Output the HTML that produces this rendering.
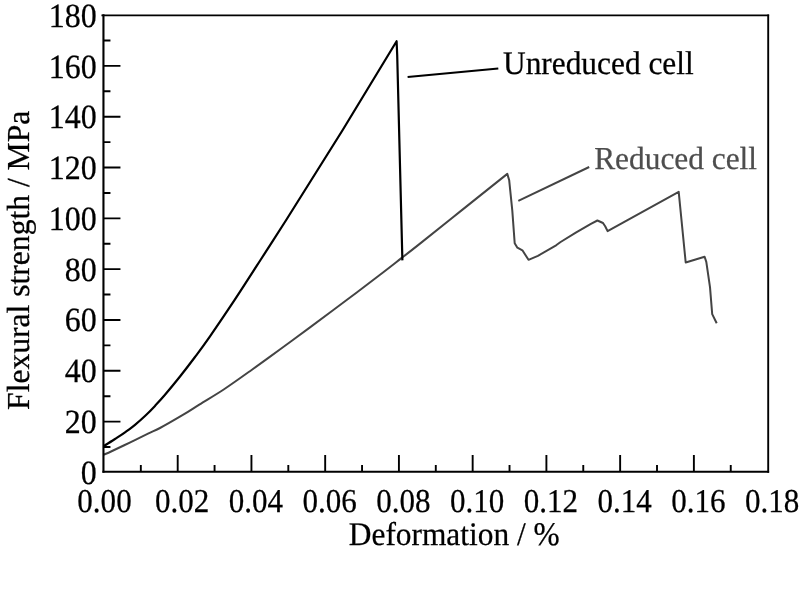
<!DOCTYPE html>
<html lang="en">
<head>
<meta charset="utf-8">
<title>Flexural strength vs deformation</title>
<style>
html,body{margin:0;padding:0;background:#fff;}
body{width:800px;height:594px;overflow:hidden;}
svg{display:block;}
text{font-family:"Liberation Serif","Times New Roman",serif;font-size:32px;fill:#000;text-rendering:geometricPrecision;stroke:#000;stroke-width:0.25px;}
.ax path{fill:none;stroke:#000;}
.cv path{fill:none;}
</style>
</head>
<body>
<svg width="800" height="594" viewBox="0 0 800 594">
<rect width="800" height="594" fill="#fff"/>
<g class="cv">
<path d="M103.7 454.7 C105.1 454.1 107.7 453.1 112.1 451.0 C116.5 448.9 124.3 445.2 130.3 442.3 C136.3 439.4 143.1 436.0 148.0 433.6 C152.9 431.2 154.1 431.1 160.0 428.0 C165.9 424.9 176.7 418.6 183.3 414.7 C189.9 410.8 193.0 408.6 199.7 404.4 C206.4 400.2 215.2 395.1 223.7 389.5 C232.2 383.9 241.1 377.5 250.6 370.7 C260.1 363.9 271.0 355.9 280.9 348.7 C290.8 341.5 299.3 335.3 310.0 327.4 C320.7 319.5 333.4 310.0 345.0 301.3 C356.6 292.6 370.1 282.3 379.7 275.0 C389.3 267.7 395.7 262.6 402.4 257.4 C409.1 252.2 410.4 251.2 420.0 243.6 C429.6 236.0 445.4 223.2 460.0 211.6 C474.6 200.0 499.4 180.2 507.3 173.9 L509.2 180.3 L512.3 210.6 L514.7 243.2 L517.4 247.7 L522.4 250.3 L528.5 259.8 L537.9 255.8 L556.1 245.3 L560.6 242.0 L575.8 232.6 L590.9 223.8 L597.4 220.5 L603.0 223.0 L605.3 226.5 L607.6 231.1 L678.7 191.8 L685.7 262.5 L704.6 256.8 L706.3 261.9 L710.0 287.1 L712.2 314.1 L716.7 323.3" stroke="#444" stroke-width="2" stroke-linejoin="round"/>
<path d="M104.0 446.0 C105.8 444.8 111.5 441.3 115.0 439.0 C118.5 436.7 121.7 434.7 125.0 432.3 C128.3 429.9 131.7 427.5 135.0 424.8 C138.3 422.1 141.7 419.1 145.0 416.0 C148.3 412.9 151.7 409.4 155.0 405.9 C158.3 402.3 160.8 399.6 165.0 394.7 C169.2 389.8 175.0 382.8 180.0 376.5 C185.0 370.2 190.0 363.7 195.0 357.0 C200.0 350.3 203.4 345.8 210.0 336.3 C216.6 326.8 226.1 312.9 234.5 300.2 C242.9 287.5 251.9 273.4 260.5 260.0 C269.1 246.6 281.9 226.7 286.2 220.0 Q343.2 130.6 396.6 41.2 L397.2 55 L402.4 260.4" stroke="#000" stroke-width="2.2" stroke-linejoin="round"/>
<path d="M407.6 77.1 L498.3 68.4" stroke="#000" stroke-width="2"/>
<path d="M518.3 200.8 L589.2 167" stroke="#444" stroke-width="2"/>
</g>
<g class="ax">
<path d="M103.45 14.35 V472.8" stroke-width="2.1"/>
<path d="M768.2 14.45 V472.8" stroke-width="1.9"/>
<path d="M101.45 15.35 H769.1" stroke-width="1.9"/>
<path d="M102.45 471.8 H769.1" stroke-width="2.1"/>
<path d="M140.83 471.8 v-6.8 M177.70 471.8 v-16.8 M214.57 471.8 v-6.8 M251.44 471.8 v-16.8 M288.31 471.8 v-6.8 M325.18 471.8 v-16.8 M362.05 471.8 v-6.8 M398.92 471.8 v-16.8 M435.79 471.8 v-6.8 M472.66 471.8 v-16.8 M509.53 471.8 v-6.8 M546.40 471.8 v-16.8 M583.27 471.8 v-6.8 M620.14 471.8 v-16.8 M657.01 471.8 v-6.8 M693.88 471.8 v-16.8 M730.75 471.8 v-6.8 M103.45 447.00 h7.0 M103.45 421.59 h17.0 M103.45 396.18 h7.0 M103.45 370.78 h17.0 M103.45 345.38 h7.0 M103.45 319.97 h17.0 M103.45 294.56 h7.0 M103.45 269.16 h17.0 M103.45 243.75 h7.0 M103.45 218.35 h17.0 M103.45 192.94 h7.0 M103.45 167.54 h17.0 M103.45 142.13 h7.0 M103.45 116.73 h17.0 M103.45 91.32 h7.0 M103.45 65.92 h17.0 M103.45 40.51 h7.0" stroke-width="1.9"/>
</g>
<g class="tx">
<text transform="translate(96.8 484) scale(1 1.06)" text-anchor="end">0</text>
<text transform="translate(96.8 433) scale(1 1.06)" text-anchor="end">20</text>
<text transform="translate(96.8 382) scale(1 1.06)" text-anchor="end">40</text>
<text transform="translate(96.8 331) scale(1 1.06)" text-anchor="end">60</text>
<text transform="translate(96.8 281) scale(1 1.06)" text-anchor="end">80</text>
<text transform="translate(96.8 230) scale(1 1.06)" text-anchor="end">100</text>
<text transform="translate(96.8 179) scale(1 1.06)" text-anchor="end">120</text>
<text transform="translate(96.8 128) scale(1 1.06)" text-anchor="end">140</text>
<text transform="translate(96.8 78) scale(1 1.06)" text-anchor="end">160</text>
<text transform="translate(96.8 27) scale(1 1.06)" text-anchor="end">180</text>
<text transform="translate(104.5 512.4) scale(0.97 1.04)" text-anchor="middle">0.00</text>
<text transform="translate(182.2 512.4) scale(0.97 1.04)" text-anchor="middle">0.02</text>
<text transform="translate(255.9 512.4) scale(0.97 1.04)" text-anchor="middle">0.04</text>
<text transform="translate(329.7 512.4) scale(0.97 1.04)" text-anchor="middle">0.06</text>
<text transform="translate(403.4 512.4) scale(0.97 1.04)" text-anchor="middle">0.08</text>
<text transform="translate(477.2 512.4) scale(0.97 1.04)" text-anchor="middle">0.10</text>
<text transform="translate(550.9 512.4) scale(0.97 1.04)" text-anchor="middle">0.12</text>
<text transform="translate(624.6 512.4) scale(0.97 1.04)" text-anchor="middle">0.14</text>
<text transform="translate(698.4 512.4) scale(0.97 1.04)" text-anchor="middle">0.16</text>
<text transform="translate(772.1 512.4) scale(0.97 1.04)" text-anchor="middle">0.18</text>
<text transform="translate(454.2 545.2) scale(0.98 1.03)" text-anchor="middle">Deformation / %</text>
<text transform="translate(29.2 409.9) rotate(-90) scale(0.987 1.0)">Flexural strength / MPa</text>
<text transform="translate(503.0 74.0) scale(0.98 1.03)">Unreduced cell</text>
<text transform="translate(594.2 169.0) scale(0.98 1.0)" style="fill:#4d4d4d;stroke:#4d4d4d">Reduced cell</text>
</g>
</svg>
</body>
</html>
